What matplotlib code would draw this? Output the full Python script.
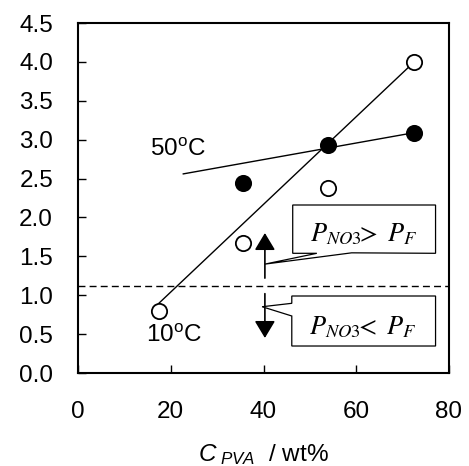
import matplotlib
matplotlib.use("Agg")
import matplotlib.pyplot as plt
from matplotlib.patches import Polygon

plt.rcParams['font.family'] = ['Liberation Sans', 'DejaVu Sans']
plt.rcParams['mathtext.fontset'] = 'custom'
plt.rcParams['mathtext.it'] = 'Liberation Sans:italic'
plt.rcParams['mathtext.rm'] = 'Liberation Sans'

# data
x_10C = [17.5, 35.5, 54.0, 72.5]
y_10C = [0.80, 1.67, 2.38, 4.00]
x_50C = [35.5, 54.0, 72.5]
y_50C = [2.44, 2.93, 3.09]
trend_10C_x = [17.5, 72.5]
trend_10C_y = [0.90, 4.00]
trend_50C_x = [22.7, 72.5]
trend_50C_y = [2.56, 3.09]
threshold = 1.12
x_ticks = [0, 20, 40, 60, 80]
y_ticks = [0.0, 0.5, 1.0, 1.5, 2.0, 2.5, 3.0, 3.5, 4.0, 4.5]

W, H = 469, 466
fig = plt.figure(figsize=(W / 100, H / 100), dpi=100)
ax = fig.add_axes([78 / W, (H - 373) / H, 371 / W, 350 / H])

ax.plot(trend_10C_x, trend_10C_y, color='black', lw=1.0, zorder=2)
ax.plot(trend_50C_x, trend_50C_y, color='black', lw=1.0, zorder=2)
ax.axhline(threshold, color='black', lw=1.0, dashes=(5, 3), zorder=1)
ax.plot(x_10C, y_10C, 'o', ms=11, mfc='white', mec='black', mew=1.3, zorder=3)
ax.plot(x_50C, y_50C, 'o', ms=11, mfc='black', mec='black', mew=1.3, zorder=3)

# arrows
astyle = '-|>,head_length=0.7,head_width=0.42'
ax.annotate('', xy=(40.3, 1.80), xytext=(40.3, 1.22),
            arrowprops=dict(arrowstyle=astyle, color='black',
                            lw=1.2, shrinkA=0, shrinkB=0, mutation_scale=15))
ax.annotate('', xy=(40.3, 0.45), xytext=(40.3, 1.02),
            arrowprops=dict(arrowstyle=astyle, color='black',
                            lw=1.2, shrinkA=0, shrinkB=0, mutation_scale=15))

# callout boxes
upper = Polygon([(46.3, 2.16), (77.1, 2.16), (77.1, 1.539), (59.0, 1.545),
                 (40.3, 1.40), (51.5, 1.539), (46.3, 1.539)],
                closed=True, fc='white', ec='black', lw=0.9, zorder=4)
lower = Polygon([(46.1, 0.99), (77.1, 0.99), (77.1, 0.347), (46.1, 0.347),
                 (46.1, 0.733), (39.7, 0.852), (46.1, 0.896)],
                closed=True, fc='white', ec='black', lw=0.9, zorder=4)
ax.add_patch(upper)
ax.add_patch(lower)
ax.text(61.6, 1.69, r'$P_{NO3}\!\!>\ P_F$', ha='center', va='baseline',
        fontsize=19, math_fontfamily='stix', zorder=5)
ax.text(61.4, 0.50, r'$P_{NO3}\!\!<\ P_F$', ha='center', va='baseline',
        fontsize=19, math_fontfamily='stix', zorder=5)

ax.text(15.5, 2.79, r'50$^{\mathrm{o}}$C', fontsize=17.5, va='baseline', ha='left')
ax.text(14.6, 0.40, r'10$^{\mathrm{o}}$C', fontsize=17.5, va='baseline', ha='left')

ax.set_xlim(0, 80)
ax.set_ylim(0, 4.5)
ax.set_xticks(x_ticks)
ax.set_xticklabels([str(t) for t in x_ticks])
ax.set_yticks(y_ticks)
ax.set_yticklabels([f'{t:.1f}' for t in y_ticks])
ax.tick_params(axis='both', direction='in', length=6, width=1.0, labelsize=17.5)
ax.tick_params(axis='y', pad=18)
ax.tick_params(axis='x', pad=20)
for s in ax.spines.values():
    s.set_linewidth(1.5)

fig.text(263 / W, (H - 461.5) / H, r'$C_{\ PVA}$  / wt%', ha='center', va='baseline', fontsize=17.5)

fig.savefig('out.png', dpi=100)
